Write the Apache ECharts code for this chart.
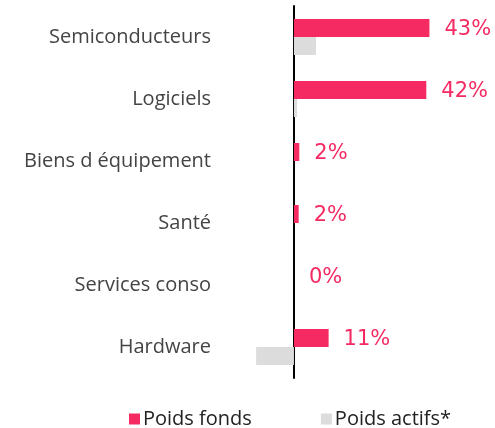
<!DOCTYPE html>
<html>
<head>
<meta charset="utf-8">
<script src="https://cdn.jsdelivr.net/npm/echarts@6/dist/echarts.min.js"></script>
<style>
  html, body { margin: 0; padding: 0; background: #fff; }
  #chart { width: 495px; height: 428px; }
</style>
</head>
<body>
<div id="chart"></div>
<script>
// secteurs, du haut vers le bas
const categories = ['Semiconducteurs', 'Logiciels', 'Biens d équipement', 'Santé', 'Services conso', 'Hardware'];
// poids du fonds (%)
const poidsFonds = [43, 42, 1.7, 1.5, 0, 11];
// poids actifs (%)
const poidsActifs = [7, 1, 0, 0, 0, -12];

const pink = '#F52A63';
const grey = '#DCDCDC';

let chart = echarts.init(document.getElementById('chart'));
let option = {
    animation: false,
    grid: {
        left: 253,
        width: 230,
        top: 6,
        height: 372
    },
    legend: {
        left: 129,
        top: 409,
        padding: 0,
        itemWidth: 11,
        itemHeight: 11,
        itemGap: 69,
        icon: 'rect',
        textStyle: {
            fontFamily: 'Open Sans',
            fontSize: 20,
            color: '#222',
            padding: [0, 0, 0, -2]
        },
        data: ['Poids fonds', 'Poids actifs*']
    },
    xAxis: {
        type: 'value',
        min: -13,
        max: 60,
        show: false
    },
    yAxis: {
        type: 'category',
        data: categories,
        inverse: true,
        axisLine: {
            show: true,
            onZero: true,
            lineStyle: { color: '#000', width: 2 }
        },
        axisTick: { show: false },
        axisLabel: {
            margin: 42,
            fontFamily: 'Open Sans',
            fontSize: 20,
            color: '#444'
        }
    },
    series: [
        {
            name: 'Poids fonds',
            type: 'bar',
            data: poidsFonds,
            barWidth: 18,
            barGap: '0%',
            itemStyle: { color: pink },
            label: {
                show: true,
                position: 'right',
                distance: 15,
                offset: [0, 2],
                fontFamily: 'DejaVu Sans',
                fontSize: 21,
                color: pink,
                formatter: p => Math.round(p.value) + '%'
            }
        },
        {
            name: 'Poids actifs*',
            type: 'bar',
            data: poidsActifs,
            barWidth: 18,
            itemStyle: { color: grey }
        }
    ]
};
chart.setOption(option);
</script>
</body>
</html>
